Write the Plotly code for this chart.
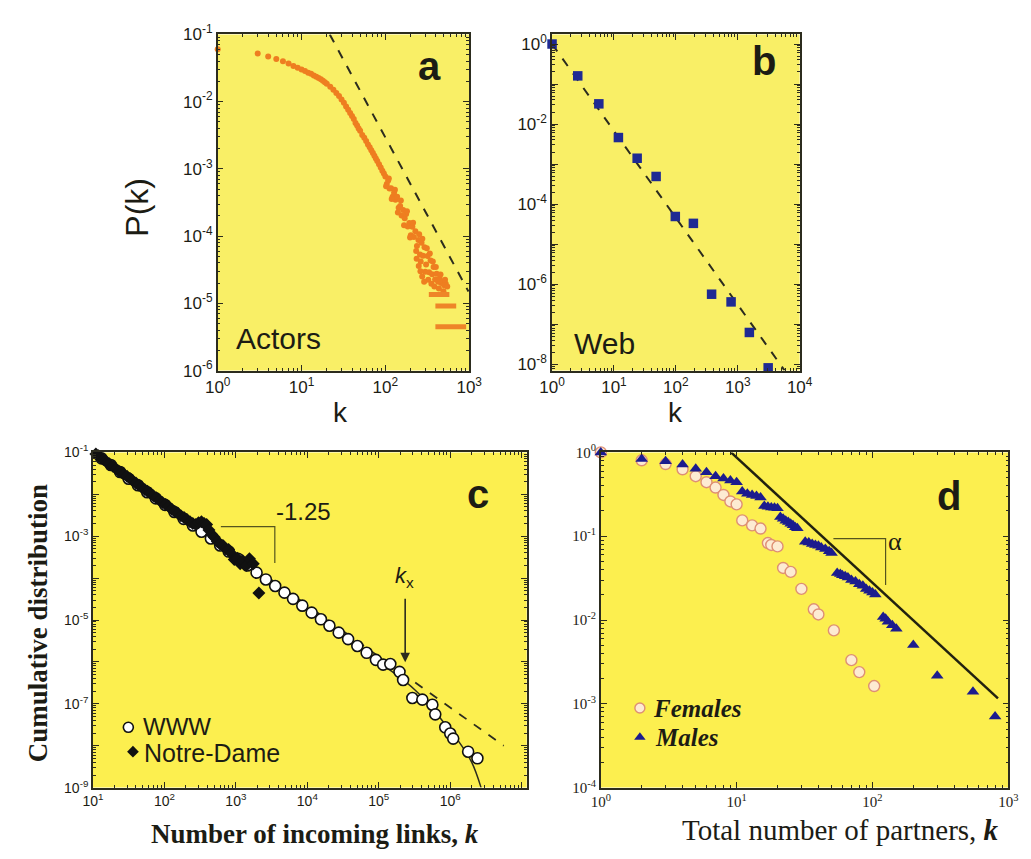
import math
import plotly.graph_objects as go

W, H = 1031, 859
FRAME = "#2c2c1e"
TXT = "#1c1c14"
YEL_AB = "#F9EF66"
YEL_CD = "#FCEF4F"

# ---------------- Panel a : Actors ----------------
actors_k = [1, 3, 4, 5, 6, 7, 8, 9, 10, 11, 12, 13, 14, 15, 16, 17, 18, 19, 20, 22, 24, 26, 28,
            30, 32, 34, 36, 38, 40, 42, 44, 46, 48, 50, 53, 56, 59, 62, 65, 68, 71, 74, 77, 80,
            84, 88, 92, 96,
            100, 104, 108, 112, 117, 122, 127, 132, 138, 144, 150, 156, 163, 170, 177, 185, 193,
            201, 210, 219, 228, 238, 248, 259, 270, 281, 293, 306, 319, 332, 346, 361, 376, 392,
            409, 426, 444, 463, 483, 503, 525, 547,
            102, 110, 119, 130, 141, 153, 167, 181, 197, 214, 233, 253, 264, 276, 299, 312, 325,
            339, 354, 368, 384, 400, 435, 455, 493, 515,
            236, 250, 262, 275, 290]
actors_p = [0.06, 0.052, 0.047, 0.043, 0.040, 0.037, 0.034, 0.032, 0.030, 0.0285, 0.027, 0.026,
            0.0245, 0.0235, 0.0225, 0.0215, 0.0205, 0.0195, 0.0185, 0.0167, 0.015, 0.0135, 0.0121,
            0.0108, 0.0096, 0.0085, 0.0076, 0.0068, 0.0061, 0.0055, 0.0048, 0.0044, 0.0040, 0.0037,
            0.0032, 0.0029, 0.0026, 0.0023, 0.0021, 0.0019, 0.00172, 0.00157, 0.00143, 0.00131,
            0.00117, 0.00105, 0.00094, 0.00085,
            7.73e-4, 5.97e-4, 6.71e-4, 5.11e-4, 5.14e-4, 3.86e-4, 4.40e-4, 3.48e-4, 3.85e-4,
            2.64e-4, 2.80e-4, 2.02e-4, 2.44e-4, 1.84e-4, 2.14e-4, 1.39e-4, 1.57e-4, 1.03e-4,
            1.38e-4, 9.66e-5, 1.18e-4, 7.14e-5, 8.77e-5, 5.32e-5, 7.98e-5, 5.11e-5, 6.82e-5,
            3.78e-5, 5.05e-5, 2.89e-5, 4.34e-5, 2.70e-5, 3.46e-5, 2.26e-5,
            2.75e-5, 2.09e-5, 2.34e-5, 2.0e-5, 2.09e-5, 1.86e-5, 1.95e-5, 1.78e-5,
            5.5e-4, 7.2e-4, 3.55e-4, 4.9e-4, 2.24e-4, 3.39e-4, 1.45e-4, 2.34e-4, 9.5e-5, 1.58e-4,
            6.0e-5, 1.07e-4, 4.2e-5, 9.1e-5, 2.95e-5, 6.6e-5, 2.24e-5, 5.5e-5, 1.95e-5, 4.2e-5,
            1.78e-5, 3.47e-5, 1.66e-5, 2.69e-5, 1.51e-5, 2.24e-5,
            4.6e-5, 3.6e-5, 3.0e-5, 2.5e-5, 2.1e-5]
actors_bar_p = [1.35e-5, 9.1e-6, 4.5e-6]
actors_bar_kmin = [330, 395, 395]
actors_bar_kmax = [580, 700, 920]
actors_fit_k = [21.7, 980]
actors_fit_p = [0.1, 1.5e-5]

# ---------------- Panel b : Web ----------------
web_k = [1, 2.6, 5.7, 11.8, 23.7, 48, 98, 192, 378, 780, 1540, 3100]
web_p = [1.0, 0.16, 0.032, 0.0046, 0.0014, 4.9e-4, 4.9e-5, 3.3e-5, 5.6e-7, 3.6e-7, 6.2e-8, 8.1e-9]
web_fit_k = [1, 5700]
web_fit_p = [1, 7e-9]

# ---------------- Panel c : WWW / Notre-Dame ----------------
www_k = [10, 13.2, 17.8, 24, 31.6, 42.7, 57.5, 75.9, 102, 138, 186, 251, 331, 447, 603, 794,
         1070, 1450, 1950, 2630, 3550, 4790, 6310, 8510, 11500, 15500, 20400, 27500, 37200,
         50100, 67600, 91200, 115000, 145000, 195000, 219000, 295000, 407000, 562000, 617000,
         851000, 1000000, 1100000, 1780000, 2400000]
www_p = [0.1, 0.072, 0.050, 0.034, 0.0235, 0.0165, 0.0112, 0.0080, 0.0056, 0.0038, 0.0026,
         0.0018, 0.00128, 8.8e-4, 6.0e-4, 4.3e-4, 2.9e-4, 2.0e-4, 1.35e-4, 9.3e-5, 6.5e-5,
         4.5e-5, 3.2e-5, 2.2e-5, 1.5e-5, 1.04e-5, 7.3e-6, 5.0e-6, 3.5e-6, 2.4e-6, 1.65e-6,
         1.12e-6, 8.6e-7, 8.9e-7, 5.8e-7, 3.7e-7, 1.38e-7, 1.26e-7, 9.5e-8, 5.6e-8, 2.75e-8,
         1.95e-8, 1.48e-8, 7.2e-9, 5.0e-9]
nd_k = [10, 11, 12, 13, 14, 15, 16, 17, 19, 21, 23, 25, 27, 30, 33, 36, 40, 44, 48, 53, 58, 64,
        70, 77, 85, 94, 104, 115, 127, 140, 155, 170, 188, 207, 228, 250, 275, 300, 330, 360,
        390, 420, 460, 500, 550, 600, 660, 720, 790, 870, 950, 1050, 1150, 1250, 1400, 1550,
        1750, 2100]
nd_p = [0.105, 0.092, 0.083, 0.074, 0.068, 0.062, 0.057, 0.054, 0.047, 0.041, 0.036, 0.033,
        0.030, 0.027, 0.024, 0.021, 0.0185, 0.0165, 0.0148, 0.0131, 0.0118, 0.0104, 0.0092,
        0.0083, 0.0072, 0.0064, 0.0057, 0.0051, 0.0044, 0.0039, 0.0035, 0.0031, 0.0028, 0.0025,
        0.0022, 0.0020, 0.0019, 0.0021, 0.0022, 0.0020, 0.0019, 0.0014, 0.0011, 9.5e-4, 7.5e-4,
        6.5e-4, 6.0e-4, 5.0e-4, 4.8e-4, 3.8e-4, 2.8e-4, 3.0e-4, 2.2e-4, 2.6e-4, 2.0e-4, 2.9e-4,
        2.2e-4, 4.4e-5]
c_dash_k = [10, 5.6e6]
c_dash_p = [0.1, 1.0e-8]
c_fit_k = [10, 1.0e5, 2.0e5, 3.16e5, 5.0e5, 7.9e5, 1.26e6, 2.0e6, 2.7e6]
c_fit_p = [0.1, 1.0e-6, 4.2e-7, 2.2e-7, 1.0e-7, 3.8e-8, 1.4e-8, 4.0e-9, 1.0e-9]
c_bracket_k = [617, 3510, 3510]
c_bracket_p = [1.7e-3, 1.7e-3, 2.3e-4]
c_legend_k = [31.3, 36.3]
c_legend_p = [2.75e-8, 7.2e-9]
c_arrow_k = 2.34e5
c_arrow_p = [3.5e-5, 9.8e-7]

# ---------------- Panel d : Females / Males ----------------
fem_k = [1, 2, 3, 4, 5, 6, 7, 8, 9, 10, 11, 13, 15, 17, 18, 20, 22, 25, 30, 37, 40, 52, 70, 80, 103]
fem_p = [1.0, 0.805, 0.727, 0.629, 0.520, 0.441, 0.381, 0.311, 0.260, 0.240, 0.1544, 0.1348,
         0.1235, 0.0829, 0.0787, 0.0756, 0.0418, 0.0375, 0.0235, 0.01342, 0.01165, 0.00752,
         0.00332, 0.00239, 0.00163]
male_k = [1, 2, 3, 4, 5, 6, 7, 8, 9, 10, 11, 12, 13, 14, 15, 16, 17, 18, 19, 20, 21, 22, 23, 24,
          25, 26, 27, 28, 32, 34, 36, 38, 40, 42, 45, 48, 50, 55, 58, 60, 63, 66, 70, 75, 80, 85,
          90, 95, 100, 105, 120, 125, 130, 140, 150, 200, 300, 550, 800]
male_p = [1.0, 0.834, 0.786, 0.717, 0.638, 0.579, 0.520, 0.490, 0.461, 0.441, 0.341, 0.321,
          0.311, 0.301, 0.290, 0.230, 0.225, 0.220, 0.218, 0.215, 0.169, 0.1615, 0.1534, 0.1482,
          0.1410, 0.1348, 0.1276, 0.1245, 0.0861, 0.0840, 0.0808, 0.0787, 0.0767, 0.0735,
          0.0704, 0.0661, 0.0630, 0.0364, 0.0354, 0.0343, 0.0332, 0.0321, 0.0300, 0.0289,
          0.0267, 0.0257, 0.0235, 0.0224, 0.0213, 0.0202, 0.01087, 0.01032, 0.00954, 0.00865,
          0.00786, 0.00504, 0.00216, 0.00139, 7.08e-4]
d_fit_k = [9.1, 840]
d_fit_p = [1.0, 1.16e-3]
d_bracket_k = [51.6, 125, 125]
d_bracket_p = [0.0934, 0.0934, 0.0261]
d_legend_k = [1.94, 1.94]
d_legend_p = [8.9e-4, 4.0e-4]

# tick labels
def sup(e):
    return "10<sup>%d</sup>" % e

a_xt = [1, 10, 100, 1000]
a_yt = [1e-6, 1e-5, 1e-4, 1e-3, 1e-2, 1e-1]
b_xt = [1, 10, 100, 1000, 10000]
b_yt = [1e-8, 1e-7, 1e-6, 1e-5, 1e-4, 1e-3, 1e-2, 1e-1, 1]
c_xt = [10, 100, 1e3, 1e4, 1e5, 1e6, 1e7]
c_yt = [1e-9, 1e-8, 1e-7, 1e-6, 1e-5, 1e-4, 1e-3, 1e-2, 1e-1]
d_xt = [1, 10, 100, 1000]
d_yt = [1e-4, 1e-3, 1e-2, 1e-1, 1]
a_xl = [sup(0), sup(1), sup(2), sup(3)]
a_yl = [sup(-6), sup(-5), sup(-4), sup(-3), sup(-2), sup(-1)]
b_xl = [sup(0), sup(1), sup(2), sup(3), sup(4)]
b_yl = [sup(-8), "", sup(-6), "", sup(-4), "", sup(-2), "", sup(0)]
c_xl = [sup(1), sup(2), sup(3), sup(4), sup(5), sup(6), ""]
c_yl = [sup(-9), "", sup(-7), "", sup(-5), "", sup(-3), "", sup(-1)]
d_xl = [sup(0), sup(1), sup(2), sup(3)]
d_yl = [sup(-4), sup(-3), sup(-2), sup(-1), sup(0)]


def px(x):
    return x / W


def py(y):
    return 1 - y / H


fig = go.Figure()


def sc(x, y, ax, **kw):
    fig.add_trace(go.Scatter(x=x, y=y, xaxis="x" + ax, yaxis="y" + ax, showlegend=False,
                             cliponaxis=False, hoverinfo="skip", **kw))


# panel a
sc(actors_fit_k, actors_fit_p, "", mode="lines", line=dict(color=FRAME, width=2, dash="dash"))
sc(actors_k, actors_p, "", mode="markers",
   marker=dict(symbol="circle", size=6, color="#EE7E20", line=dict(width=0)))
for lev, k0, k1 in zip(actors_bar_p, actors_bar_kmin, actors_bar_kmax):
    sc([k0, k1], [lev, lev], "", mode="lines", line=dict(color="#EE8528", width=5))

# panel b
sc(web_fit_k, web_fit_p, "2", mode="lines", line=dict(color=FRAME, width=2, dash="dash"))
sc(web_k, web_p, "2", mode="markers",
   marker=dict(symbol="square", size=9.5, color="#1F2A93", line=dict(width=0)))

# panel c
sc(c_dash_k, c_dash_p, "3", mode="lines", line=dict(color=FRAME, width=1.8, dash="dash"))
sc(c_fit_k, c_fit_p, "3", mode="lines", line=dict(color=FRAME, width=1.5, shape="spline"))
sc(c_bracket_k, c_bracket_p, "3", mode="lines", line=dict(color="#55551e", width=1.2))
sc(www_k, www_p, "3", mode="markers",
   marker=dict(symbol="circle", size=11, color="white", line=dict(color="#111", width=1.6)))
sc(nd_k, nd_p, "3", mode="markers",
   marker=dict(symbol="diamond", size=10, color="#111", line=dict(width=0)))
sc(c_legend_k[:1], c_legend_p[:1], "3", mode="markers",
   marker=dict(symbol="circle", size=10, color="white", line=dict(color="#111", width=1.6)))
sc(c_legend_k[1:], c_legend_p[1:], "3", mode="markers",
   marker=dict(symbol="diamond", size=9, color="#111", line=dict(width=0)))

# panel d
sc(d_fit_k, d_fit_p, "4", mode="lines", line=dict(color="#22220f", width=2.5))
sc(d_bracket_k, d_bracket_p, "4", mode="lines", line=dict(color="#55551e", width=1.2))
sc(fem_k, fem_p, "4", mode="markers",
   marker=dict(symbol="circle", size=11, color="#FDEBD2", line=dict(color="#DE8F74", width=1.4)))
sc(male_k, male_p, "4", mode="markers",
   marker=dict(symbol="triangle-up", size=11, color="#1C1C8E", line=dict(width=0)))
sc(d_legend_k[:1], d_legend_p[:1], "4", mode="markers",
   marker=dict(symbol="circle", size=10, color="#FDEBD2", line=dict(color="#DE8F74", width=1.4)))
sc(d_legend_k[1:], d_legend_p[1:], "4", mode="markers",
   marker=dict(symbol="triangle-up", size=10, color="#1C1C8E", line=dict(width=0)))


def axis(domain, rng, tv, tt, font, anchor):
    return dict(type="log", domain=domain, range=rng, tickmode="array", tickvals=tv,
                ticktext=tt, ticks="inside", ticklen=6, tickwidth=1.2, tickcolor=FRAME,
                showline=True, linecolor=FRAME, linewidth=1.5, mirror="allticks",
                showgrid=False, zeroline=False, tickfont=font, anchor=anchor,
                minor=dict(ticks="inside", ticklen=3, tickwidth=1, tickcolor=FRAME,
                           dtick="D1", showgrid=False))


sans = dict(family="Liberation Sans, Arial", size=17, color=TXT)
sans_c = dict(family="Liberation Sans, Arial", size=14, color=TXT)
serif_d = dict(family="Liberation Serif, Times New Roman", size=15, color=TXT)

dom_a_x = [px(210), px(468)]
dom_b_x = [px(553), px(807)]
dom_ab_y = [py(368), py(23)]
dom_c_x = [px(82), px(527)]
dom_d_x = [px(603), px(1021)]
dom_cd_y = [py(796), py(452)]

fig.update_layout(
    width=W, height=H, margin=dict(l=0, r=0, t=0, b=0),
    paper_bgcolor="white", plot_bgcolor="white", showlegend=False,
    xaxis=axis(dom_a_x, [0, 3], a_xt, a_xl, sans, "y"),
    yaxis=axis(dom_ab_y, [-6, -1], a_yt, a_yl, sans, "x"),
    xaxis2=axis(dom_b_x, [0, 4], b_xt, b_xl, sans, "y2"),
    yaxis2=axis(dom_ab_y, [-8.16, 0.24], b_yt, b_yl, sans, "x2"),
    xaxis3=axis(dom_c_x, [1, 7.07], c_xt, c_xl, sans_c, "y3"),
    yaxis3=axis(dom_cd_y, [-9, -1], c_yt, c_yl, sans_c, "x3"),
    xaxis4=axis(dom_d_x, [0, 3], d_xt, d_xl, serif_d, "y4"),
    yaxis4=axis(dom_cd_y, [-4, 0], d_yt, d_yl, serif_d, "x4"),
)

shapes = []
for ax, col in [("", YEL_AB), ("2", YEL_AB), ("3", YEL_CD), ("4", YEL_CD)]:
    shapes.append(dict(type="rect", xref="x%s domain" % ax, yref="y%s domain" % ax,
                       x0=0, x1=1, y0=0, y1=1, fillcolor=col, line=dict(width=0),
                       layer="below"))
fig.update_layout(shapes=shapes)

SANS = "Liberation Sans, Arial"
SERIF = "Liberation Serif, Times New Roman"


def ann(x, y, text, size, family=SANS, angle=0, xanchor="center"):
    return dict(x=px(x), y=py(y), xref="paper", yref="paper", text=text, showarrow=False,
                font=dict(family=family, size=size, color=TXT), textangle=angle,
                xanchor=xanchor, yanchor="middle")


anns = [
    ann(127, 200, "P(k)", 32, angle=-90),
    ann(336, 411, "k", 28),
    ann(680, 411, "k", 28),
    ann(427, 55, "<b>a</b>", 40),
    ann(770, 50, "<b>b</b>", 40),
    ann(477, 495, "<b>c</b>", 40),
    ann(960, 497, "<b>d</b>", 40),
    ann(272, 335, "Actors", 30),
    ann(607, 340, "Web", 30),
    ann(26, 627, "<b>Cumulative distribution</b>", 27, SERIF, -90),
    ann(310, 844, "<b>Number of incoming links, <i>k</i></b>", 27, SERIF),
    ann(849, 840, "Total number of partners, <b><i>k</i></b>", 29, SERIF),
    ann(298, 513, "-1.25", 24),
    ann(905, 543, "α", 26, SERIF),
    ann(402, 580, "<i>k</i><sub>x</sub>", 22),
    ann(131, 733, "WWW", 24, xanchor="left"),
    ann(132, 760, "Notre-Dame", 25, xanchor="left"),
    ann(655, 715, "<b><i>Females</i></b>", 25, SERIF, xanchor="left"),
    ann(657, 745, "<b><i>Males</i></b>", 25, SERIF, xanchor="left"),
    dict(x=math.log10(c_arrow_k), y=math.log10(c_arrow_p[1]),
         ax=math.log10(c_arrow_k), ay=math.log10(c_arrow_p[0]),
         xref="x3", yref="y3", axref="x3", ayref="y3",
         text="", showarrow=True, arrowhead=2, arrowsize=1.2, arrowwidth=1.6,
         arrowcolor=FRAME),
]
fig.update_layout(annotations=anns)

fig.write_html("out.html")
